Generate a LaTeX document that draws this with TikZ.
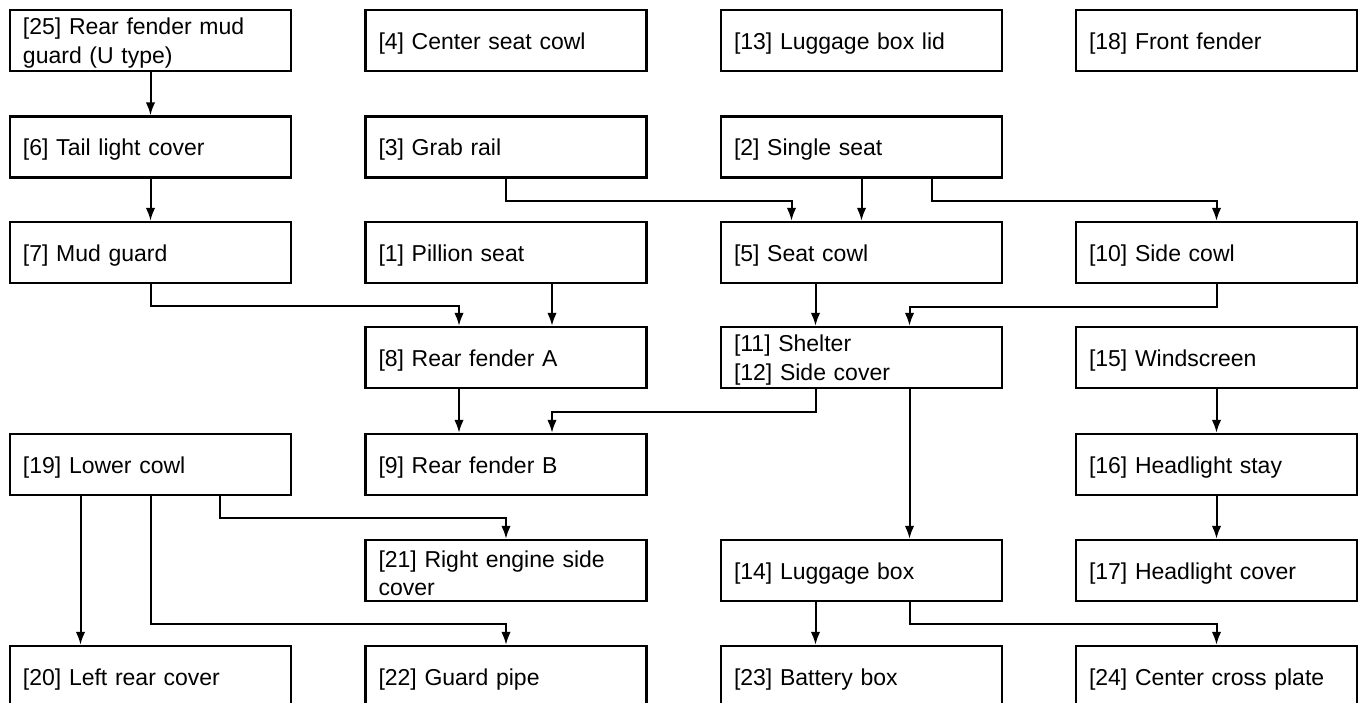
\documentclass[tikz,border=0pt]{standalone}
\usepackage{fontspec}
\setmainfont{Liberation Sans}
\usetikzlibrary{arrows.meta}
\tikzset{
  box/.style={draw=black, line width=2.4pt, rectangle, minimum width=281pt, minimum height=61pt,
    text width=255pt, text height=22pt, inner xsep=13pt, inner ysep=0pt, align=left,
    font=\fontsize{23}{28.5}\selectfont},
  arr/.style={line width=2pt, -{Latex[length=13pt,width=9.5pt]}},
}
\begin{document}
\begin{tikzpicture}[x=1pt,y=-1pt]
\useasboundingbox[fill=white] (0,0) rectangle (1365,703);
% columns: 150.5, 506, 861.5, 1216.5 ; rows: 40.5,147,252.5,357.5,464.5,570.5,676.5
\node[box] (n25) at (150.5,40.5) {[25] Rear fender mud\\guard (U type)};
\node[box] (n4)  at (506,40.5) {[4] Center seat cowl};
\node[box] (n13) at (861.5,40.5) {[13] Luggage box lid};
\node[box] (n18) at (1216.5,40.5) {[18] Front fender};

\node[box] (n6) at (150.5,147) {[6] Tail light cover};
\node[box] (n3) at (506,147) {[3] Grab rail};
\node[box] (n2) at (861.5,147) {[2] Single seat};

\node[box] (n7)  at (150.5,252.5) {[7] Mud guard};
\node[box] (n1)  at (506,252.5) {[1] Pillion seat};
\node[box] (n5)  at (861.5,252.5) {[5] Seat cowl};
\node[box] (n10) at (1216.5,252.5) {[10] Side cowl};

\node[box] (n8)  at (506,357.5) {[8] Rear fender A};
\node[box] (n11) at (861.5,357.5) {[11] Shelter\\{}[12] Side cover};
\node[box] (n15) at (1216.5,357.5) {[15] Windscreen};

\node[box] (n19) at (150.5,464.5) {[19] Lower cowl};
\node[box] (n9)  at (506,464.5) {[9] Rear fender B};
\node[box] (n16) at (1216.5,464.5) {[16] Headlight stay};

\node[box] (n21) at (506,570.5) {[21] Right engine side\\cover};
\node[box] (n14) at (861.5,570.5) {[14] Luggage box};
\node[box] (n17) at (1216.5,570.5) {[17] Headlight cover};

\node[box] (n20) at (150.5,676.5) {[20] Left rear cover};
\node[box] (n22) at (506,676.5) {[22] Guard pipe};
\node[box] (n23) at (861.5,676.5) {[23] Battery box};
\node[box] (n24) at (1216.5,676.5) {[24] Center cross plate};

% connectors
\draw[arr] (n25.south) -- (n6.north);
\draw[arr] (n6.south) -- (n7.north);
\draw[arr] (n3.south) -- ++(0,22.5) -| ([xshift=-70pt]n5.north);
\draw[arr] (n2.south) -- (n5.north);
\draw[arr] ([xshift=70pt]n2.south) -- ++(0,22.5) -| (n10.north);
\draw[arr] (n7.south) -- ++(0,22) -| ([xshift=-47pt]n8.north);
\draw[arr] ([xshift=46pt]n1.south) -- ([xshift=46pt]n8.north);
\draw[arr] ([xshift=-46pt]n5.south) -- ([xshift=-46pt]n11.north);
\draw[arr] (n10.south) -- ++(0,23) -| ([xshift=48pt]n11.north);
\draw[arr] ([xshift=-47pt]n8.south) -- ([xshift=-47pt]n9.north);
\draw[arr] ([xshift=-46pt]n11.south) -- ++(0,23) -| ([xshift=46pt]n9.north);
\draw[arr] ([xshift=48pt]n11.south) -- ([xshift=48pt]n14.north);
\draw[arr] (n15.south) -- (n16.north);
\draw[arr] (n16.south) -- (n17.north);
\draw[arr] ([xshift=-70pt]n19.south) -- ([xshift=-70pt]n20.north);
\draw[arr] (n19.south) -- ++(0,128) -| (n22.north);
\draw[arr] ([xshift=69pt]n19.south) -- ++(0,22) -| (n21.north);
\draw[arr] ([xshift=-46pt]n14.south) -- ([xshift=-46pt]n23.north);
\draw[arr] ([xshift=48pt]n14.south) -- ++(0,22) -| (n24.north);
\end{tikzpicture}
\end{document}
